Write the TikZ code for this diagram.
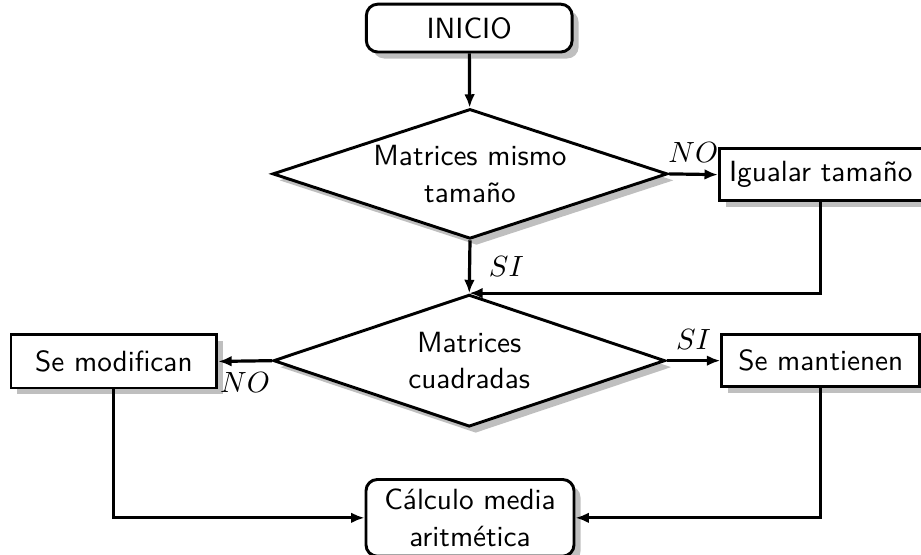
\documentclass[11pt,tikz,border=0pt]{standalone}
\usepackage{tikz}
\usetikzlibrary{shapes.geometric, arrows.meta, shadows}
\renewcommand{\familydefault}{\sfdefault}
\tikzset{
  startstop/.style = {
    rectangle,
    rounded corners=1.5mm,
    draw=black,
    fill=white,
    align=center,
    line width=1.1pt,
    drop shadow
  },
  decision/.style = {
    diamond,
    aspect=3,
    draw=black,
    fill=white,
    align=center,
    inner sep=0pt,
    line width=1.1pt,
    drop shadow
  },
  process/.style = {
    rectangle,
    draw=black,
    fill=white,
    align=center,
    line width=1.1pt,
    minimum width=2.61cm,
    minimum height=0.68cm,
    drop shadow
  },
  flowarrow/.style = {
    -{Latex[length=5pt, width=4pt]},
    line width=1.2pt
  }
}
\begin{document}
\begin{tikzpicture}[x=1cm, y=1cm]
  \useasboundingbox (0,0) rectangle (12.13,-7.30);

  % Start
  \node[startstop, minimum width=2.71cm, minimum height=0.63cm] (inicio) at (6.18, -0.37) {INICIO};

  % Decisions
  \node[decision, minimum width=5.20cm, minimum height=1.71cm] (mismotam) at (6.19, -2.29) {Matrices mismo\\tama\~no};
  \node[decision, minimum width=5.16cm, minimum height=1.74cm] (cuadradas) at (6.18, -4.75) {Matrices\\cuadradas};

  % Processes
  \node[process] (igualar) at (10.81, -2.30) {Igualar tama\~no};
  \node[process, minimum width=2.71cm, minimum height=0.70cm] (modifican) at (1.50, -4.76) {Se modifican};
  \node[process] (mantienen) at (10.81, -4.75) {Se mantienen};

  % End
  \node[startstop, minimum width=2.74cm, minimum height=0.91cm] (media) at (6.19, -6.82) {C\'alculo media\\aritm\'etica};

  % Connectors
  \draw[flowarrow] (inicio) -- (mismotam);
  \draw[flowarrow] (mismotam.east) -- node[above] {$NO$} (igualar.west);
  \draw[flowarrow] (mismotam.south) -- node[right=3pt] {$SI$} (cuadradas.north);
  \draw[flowarrow] (igualar.south) |- (cuadradas.north);
  \draw[flowarrow] (cuadradas.west) -- node[below] {$NO$} (modifican.east);
  \draw[flowarrow] (cuadradas.east) -- node[above] {$SI$} (mantienen.west);
  \draw[flowarrow] (modifican.south) |- (media.west);
  \draw[flowarrow] (mantienen.south) |- (media.east);
\end{tikzpicture}
\end{document}
